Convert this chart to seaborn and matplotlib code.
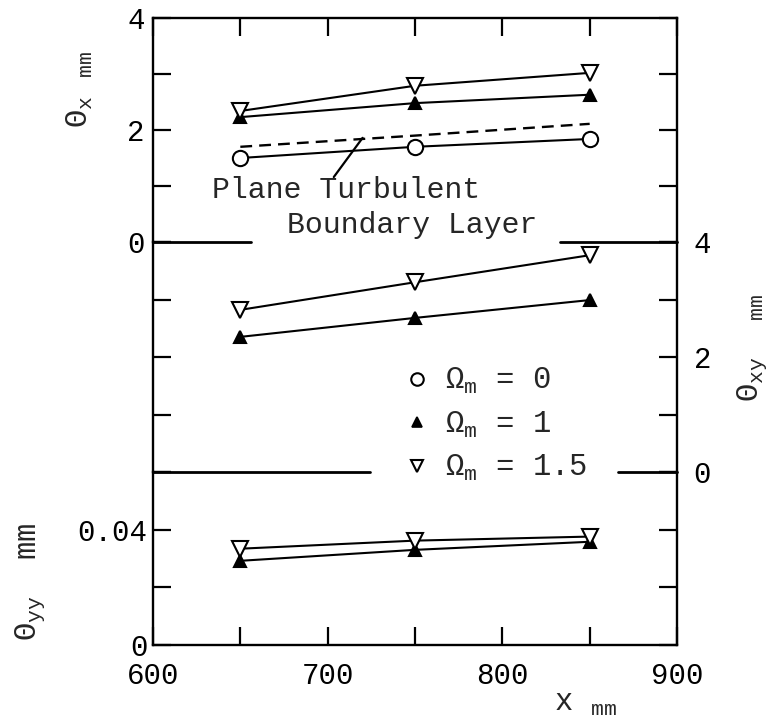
import matplotlib
matplotlib.use('Agg')
import matplotlib.pyplot as plt
import seaborn as sns
from matplotlib.lines import Line2D

# ---------------- data ----------------
x_mm = [650, 750, 850]
theta_x_om0 = [1.50, 1.70, 1.84]
theta_x_om1 = [2.23, 2.48, 2.63]
theta_x_om15 = [2.34, 2.79, 3.02]
theta_x_plane = [1.70, 1.90, 2.11]
theta_xy_om1 = [2.35, 2.68, 2.99]
theta_xy_om15 = [2.82, 3.30, 3.77]
theta_yy_om1 = [0.0292, 0.0330, 0.0358]
theta_yy_om15 = [0.0334, 0.0362, 0.0376]

x_ticks = [600, 650, 700, 750, 800, 850, 900]
x_tick_labels = ['600', '', '700', '', '800', '', '900']
top_ticks = [0, 1, 2, 3, 4]
top_tick_labels = ['0', '', '2', '', '4']
yy_ticks = [0, 0.02, 0.04, 0.06]
yy_tick_labels = ['0', '', '0.04', '']
legend_labels = [r'Ω$_{\rm m}$ = 0', r'Ω$_{\rm m}$ = 1', r'Ω$_{\rm m}$ = 1.5']

# ---------------- style ----------------
sns.set_theme(style='ticks')
plt.rcParams['font.family'] = ['Liberation Mono', 'DejaVu Sans']
plt.rcParams['mathtext.fontset'] = 'custom'
plt.rcParams['mathtext.rm'] = 'Liberation Mono'
plt.rcParams['mathtext.it'] = 'Liberation Mono'
plt.rcParams['axes.linewidth'] = 1.7

W_PX, H_PX = 773, 721
fig = plt.figure(figsize=(W_PX / 100, H_PX / 100), dpi=100)
left = 153 / W_PX
width = (677 - 153) / W_PX


def axes_px(top_px, bot_px):
    return fig.add_axes([left, 1 - bot_px / H_PX, width, (bot_px - top_px) / H_PX])


ax_top = axes_px(18, 242)
ax_mid = axes_px(242, 472)
ax_bot = axes_px(472, 645)
for ax in (ax_top, ax_mid, ax_bot):
    ax.patch.set_visible(False)
ax_mid.set_zorder(3)

LW = 1.5
DIV_LW = 2.0
TICK = dict(direction='in', length=13, width=1.6, colors='black', labelsize=21)


def series(ax, y, marker, ms, fill):
    sns.lineplot(x=x_mm, y=y, ax=ax, color='black', lw=LW, marker=marker,
                 markersize=ms, markerfacecolor=fill, markeredgecolor='black',
                 markeredgewidth=1.5, zorder=3)


# top panel: theta_x
series(ax_top, theta_x_om0, 'o', 11, 'white')
series(ax_top, theta_x_om1, '^', 8, 'black')
series(ax_top, theta_x_om15, 'v', 12, 'white')
sns.lineplot(x=x_mm, y=theta_x_plane, ax=ax_top, color='black', lw=1.7, linestyle='--')
ax_top.lines[-1].set_dashes((5, 3))

# middle panel: theta_xy
series(ax_mid, theta_xy_om1, '^', 8, 'black')
series(ax_mid, theta_xy_om15, 'v', 12, 'white')

# bottom panel: theta_yy
series(ax_bot, theta_yy_om1, '^', 8, 'black')
series(ax_bot, theta_yy_om15, 'v', 12, 'white')

for ax in (ax_top, ax_mid, ax_bot):
    ax.set_xlim(600, 900)
    ax.set_xlabel('')
    ax.set_ylabel('')
    ax.set_xticks(x_ticks)
    ax.tick_params(**TICK)
    ax.tick_params(axis='x', pad=12)
    for s in ax.spines.values():
        s.set_color('black')

# top
ax_top.set_ylim(0, 4)
ax_top.set_yticks(top_ticks)
ax_top.set_yticklabels(top_tick_labels)
ax_top.tick_params(axis='y', left=True, right=True, labelleft=True, labelright=False, pad=6)
ax_top.tick_params(axis='x', top=True, bottom=False, labelbottom=False, labeltop=False)
ax_top.spines['bottom'].set_visible(False)
ax_top.axhline(0, xmin=0, xmax=0.187, color='black', lw=DIV_LW, clip_on=False)
ax_top.axhline(0, xmin=0.777, xmax=1, color='black', lw=DIV_LW, clip_on=False)

# middle
ax_mid.set_ylim(0, 4)
ax_mid.set_yticks(top_ticks)
ax_mid.set_yticklabels(top_tick_labels)
ax_mid.tick_params(axis='y', left=True, right=True, labelleft=False, labelright=True, pad=12)
ax_mid.tick_params(axis='x', top=False, bottom=False, labelbottom=False)
ax_mid.spines['top'].set_visible(False)
ax_mid.spines['bottom'].set_visible(False)
ax_mid.axhline(0, xmin=0, xmax=0.414, color='black', lw=DIV_LW, clip_on=False)
ax_mid.axhline(0, xmin=0.887, xmax=1, color='black', lw=DIV_LW, clip_on=False)

# bottom
ax_bot.set_ylim(0, 0.06)
ax_bot.set_yticks(yy_ticks)
ax_bot.set_yticklabels(yy_tick_labels)
ax_bot.tick_params(axis='y', left=True, right=True, labelleft=True, labelright=False, pad=4)
ax_bot.tick_params(axis='x', top=False, bottom=True)
ax_bot.set_xticklabels(x_tick_labels)
ax_bot.spines['top'].set_visible(False)

# annotation
ax_top.text(634, 0.93, 'Plane Turbulent', ha='left', va='center', fontsize=21.5)
ax_top.text(677, 0.30, 'Boundary Layer', ha='left', va='center', fontsize=21.5)
ax_top.annotate('', xy=(720, 1.86), xytext=(703.5, 1.16),
                arrowprops=dict(arrowstyle='-', lw=1.6, color='black', shrinkA=0, shrinkB=0))

# legend
handles = [
    Line2D([], [], ls='none', marker='o', ms=9, mfc='white', mec='black', mew=1.5),
    Line2D([], [], ls='none', marker='^', ms=7, mfc='black', mec='black', mew=1.2),
    Line2D([], [], ls='none', marker='v', ms=9, mfc='white', mec='black', mew=1.5),
]
ax_mid.legend(handles, legend_labels, loc='upper left', bbox_to_anchor=(0.478, 0.46),
              frameon=False, fontsize=22, handlelength=0.9, handletextpad=0.45,
              labelspacing=0.44, borderpad=0, borderaxespad=0)

# axis labels
def ftxt(xp, yp, s, **kw):
    fig.text(xp / W_PX, 1 - yp / H_PX, s, ha='center', va='center', fontsize=22, **kw)


ftxt(80, 89, r'Θ$_{\rm x}$ $_{\rm mm}$', rotation=90)
ftxt(752, 348, r'Θ$_{\rm xy}$  $_{\rm mm}$', rotation=90)
ftxt(30, 582, r'Θ$_{\rm yy}$  mm', rotation=90)
ftxt(586, 703, r'x $_{\rm mm}$')

fig.savefig('out.png', dpi=100)
